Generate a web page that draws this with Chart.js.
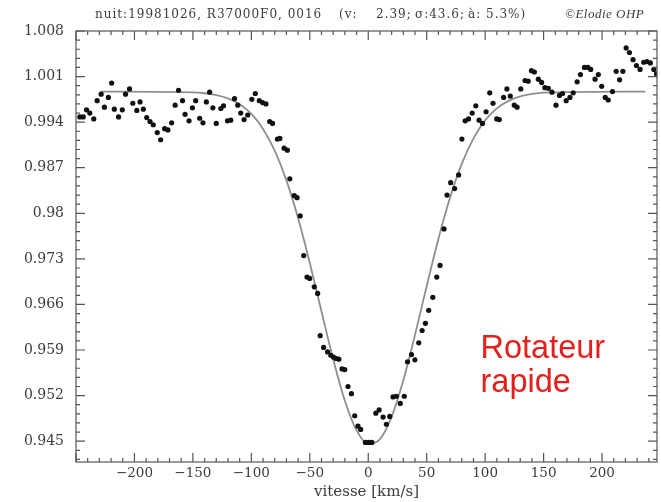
<!DOCTYPE html>
<html>
<head>
<meta charset="utf-8">
<script src="https://cdn.jsdelivr.net/npm/chart.js@4.4.1/dist/chart.umd.min.js"></script>
<style>
html, body { margin: 0; padding: 0; background: #fff; overflow: hidden; }
#wrap { position: relative; width: 661px; height: 502px; }
</style>
</head>
<body>
<div id="wrap"><canvas id="profil"></canvas></div>
<script>
// Profil de raie observé (vitesse en km/s, flux normalisé)
const vitesses = [
  -246.7, -243.8, -241.0, -238.2, -234.8, -231.9, -228.5, -225.7, -222.3, -219.5,
  -217.2, -213.6, -210.4, -207.6, -204.2, -201.4, -198.0, -195.2, -192.4, -189.5,
  -186.7, -183.9, -180.5, -177.6, -174.2, -171.4, -168.2, -165.2, -162.3, -158.9,
  -156.7, -153.3, -150.4, -147.6, -144.2, -141.4, -138.5, -135.7, -132.9, -130.0,
  -126.1, -123.8, -120.4, -117.6, -114.4, -111.6, -109.1, -106.2, -103.1, -99.6,
  -96.6, -93.2, -90.4, -87.5, -84.3, -81.9, -77.7, -75.6, -72.0, -69.2,
  -67.1, -63.3, -60.9, -58.2, -55.2, -52.4, -50.1, -46.2, -43.3, -41.1,
  -38.2, -34.8, -32.0, -29.7, -27.5, -25.2, -22.4, -20.1, -17.3, -14.4,
  -11.6, -8.8, -6.5, -2.5, 0.3, 3.1, 6.5, 9.3, 12.7, 15.5,
  18.4, 21.2, 24.0, 27.4, 30.8, 33.6, 37.0, 39.9, 43.2, 46.1,
  48.9, 51.7, 55.2, 58.6, 61.4, 64.8, 67.4, 70.5, 73.9, 77.3,
  80.1, 82.9, 85.8, 88.9, 92.0, 94.8, 97.7, 100.8, 103.9, 106.7,
  109.9, 112.1, 115.8, 118.6, 121.5, 124.9, 127.3, 130.5, 134.1, 136.8,
  139.6, 142.1, 145.5, 148.3, 151.1, 154.0, 157.2, 160.6, 163.6, 166.2,
  169.3, 172.5, 175.3, 178.7, 181.5, 184.9, 187.8, 190.3, 194.0, 196.8,
  199.7, 202.7, 205.3, 208.9, 212.1, 215.0, 217.8, 220.6, 223.4, 226.5,
  229.4, 232.5, 235.6, 238.4, 241.3, 244.3, 246.6
];
const flux = [
  0.9948, 0.9948, 0.9959, 0.9954, 0.9945, 0.9973, 0.9983, 0.9963, 0.9978, 1.0000,
  0.9960, 0.9948, 0.9959, 0.9983, 0.9991, 0.9969, 0.9958, 0.9971, 0.9960, 0.9947,
  0.9941, 0.9936, 0.9924, 0.9913, 0.9930, 0.9928, 0.9939, 0.9966, 0.9989, 0.9973,
  0.9952, 0.9942, 0.9962, 0.9973, 0.9946, 0.9939, 0.9971, 0.9986, 0.9962, 0.9938,
  0.9961, 0.9965, 0.9942, 0.9943, 0.9976, 0.9966, 0.9954, 0.9944, 0.9951, 0.9975,
  0.9984, 0.9973, 0.9970, 0.9968, 0.9941, 0.9938, 0.9914, 0.9915, 0.9900, 0.9897,
  0.9853, 0.9827, 0.9824, 0.9796, 0.9735, 0.9702, 0.9700, 0.9687, 0.9677, 0.9612,
  0.9594, 0.9587, 0.9582, 0.9579, 0.9577, 0.9576, 0.9561, 0.9560, 0.9534, 0.9523,
  0.9489, 0.9473, 0.9468, 0.9448, 0.9448, 0.9448, 0.9493, 0.9498, 0.9487, 0.9476,
  0.9488, 0.9518, 0.9519, 0.9508, 0.9519, 0.9572, 0.9583, 0.9575, 0.9601, 0.9620,
  0.9631, 0.9651, 0.9671, 0.9702, 0.9720, 0.9776, 0.9828, 0.9847, 0.9838, 0.9859,
  0.9914, 0.9942, 0.9945, 0.9954, 0.9965, 0.9943, 0.9938, 0.9956, 0.9985, 0.9969,
  0.9945, 0.9944, 0.9978, 0.9991, 0.9980, 0.9966, 0.9963, 0.9991, 1.0004, 1.0003,
  1.0019, 1.0017, 1.0006, 1.0001, 0.9993, 0.9992, 0.9986, 0.9966, 0.9981, 0.9984,
  0.9973, 0.9978, 0.9985, 1.0002, 1.0013, 1.0024, 1.0024, 1.0021, 1.0006, 1.0013,
  0.9995, 0.9978, 0.9974, 0.9987, 1.0018, 1.0005, 1.0018, 1.0054, 1.0047, 1.0036,
  1.0027, 1.0021, 1.0032, 1.0033, 1.0031, 1.0021, 1.0014
];

// Ajustement (courbe grise)
const ajustV = [
  -229, -150, -140, -130, -120, -110, -100, -90, -80, -70, -60, -50, -40, -30, -20, -10,
  0, 10, 20, 30, 40, 50, 60, 70, 80, 90, 100, 110, 120, 130, 140, 150, 237
];
const ajustFlux = [
  0.9987, 0.99858, 0.99844, 0.99816, 0.99765, 0.99675, 0.99526, 0.99296, 0.98961, 0.98505,
  0.97924, 0.97238, 0.96492, 0.95758, 0.95120, 0.94665, 0.94458, 0.94532, 0.94874, 0.95434,
  0.96133, 0.96883, 0.97605, 0.98241, 0.98758, 0.99150, 0.99428, 0.99612, 0.99727, 0.99795,
  0.99833, 0.99852, 0.9987
];

// Graduations
const xTicks = [-200, -150, -100, -50, 0, 50, 100, 150, 200];
const yTickLabels = ['1.008', '1.001', '0.994', '0.987', '0.98', '0.973', '0.966', '0.959', '0.952', '0.945'];

const entete = ['nuit:19981026, R37000F0, 0016', '(v:', '2.39;', '\u03c3:43.6;', '\u00e0: 5.3%)'];
const signature = '\u00a9Elodie OHP';
const annotation = ['Rotateur', 'rapide'];

const serif = "'DejaVu Serif', 'Liberation Serif', serif";

// Cadre avec graduations internes sur les quatre côtés
const cadre = {
  id: 'cadre',
  afterDatasetsDraw(chart) {
    const { ctx, chartArea: a, scales: { x, y } } = chart;
    ctx.save();
    ctx.strokeStyle = '#555';
    ctx.lineWidth = 1.2;
    ctx.strokeRect(a.left, a.top, a.right - a.left, a.bottom - a.top);
    ctx.beginPath();
    for (let v = -250; v <= 250; v += 10) {
      const px = x.getPixelForValue(v);
      if (px < a.left - 0.5 || px > a.right + 0.5) continue;
      const len = v % 50 === 0 ? 9 : 4;
      ctx.moveTo(px, a.bottom); ctx.lineTo(px, a.bottom - len);
      ctx.moveTo(px, a.top); ctx.lineTo(px, a.top + len);
    }
    for (let k = 0; k < 60; k++) {
      const val = 1.008 - k * 0.0014;
      if (val < y.min) break;
      const py = y.getPixelForValue(val);
      const len = k % 5 === 0 ? 9 : 4;
      ctx.moveTo(a.left, py); ctx.lineTo(a.left + len, py);
      ctx.moveTo(a.right, py); ctx.lineTo(a.right - len, py);
    }
    ctx.stroke();
    ctx.restore();
  },
  afterDraw(chart) {
    const { ctx, scales: { x, y } } = chart;
    ctx.save();
    ctx.fillStyle = '#3c3c3c';
    ctx.textBaseline = 'alphabetic';
    ctx.font = '12px ' + serif;
    ctx.letterSpacing = '1px';
    ctx.fillText(entete[0], 95, 18);
    ctx.fillText(entete[1], 339, 18);
    ctx.fillText(entete[2], 376, 18);
    ctx.fillText(entete[3], 415, 18);
    ctx.fillText(entete[4], 468, 18);
    ctx.letterSpacing = '0.5px';
    ctx.font = "italic 13px 'Liberation Serif', serif";
    ctx.fillText(signature, 565, 18);
    ctx.letterSpacing = '0px';

    // texte rouge
    ctx.fillStyle = '#e3201b';
    ctx.font = "32.5px 'Liberation Sans', Arial, sans-serif";
    ctx.fillText(annotation[0], x.getPixelForValue(96), y.getPixelForValue(0.9577));
    ctx.fillText(annotation[1], x.getPixelForValue(96), y.getPixelForValue(0.9526));
    ctx.restore();
  }
};

const ctx = document.getElementById('profil').getContext('2d');

new Chart(ctx, {
  data: {
    datasets: [
      {
        type: 'scatter',
        data: vitesses.map((v, i) => ({ x: v, y: flux[i] })),
        backgroundColor: '#111',
        borderColor: '#111',
        pointRadius: 2.6,
        pointBorderWidth: 0,
        order: 0
      },
      {
        type: 'line',
        data: ajustV.map((v, i) => ({ x: v, y: ajustFlux[i] })),
        borderColor: '#8f8f8f',
        borderWidth: 1.8,
        pointRadius: 0,
        fill: false,
        cubicInterpolationMode: 'monotone',
        order: 1
      }
    ]
  },
  options: {
    responsive: true,
    maintainAspectRatio: false,
    animation: false,
    layout: { padding: { top: 31, right: 1, left: 0, bottom: 0 } },
    plugins: {
      legend: { display: false },
      tooltip: { enabled: false }
    },
    scales: {
      x: {
        type: 'linear',
        min: -250,
        max: 247,
        afterFit(scale) { scale.height = 40; },
        afterBuildTicks(scale) { scale.ticks = xTicks.map(v => ({ value: v })); },
        grid: { display: false, drawTicks: false },
        border: { display: false },
        ticks: {
          padding: 3,
          color: '#3c3c3c',
          font: { family: serif, size: 13.5 },
          maxRotation: 0,
          callback: v => String(v).replace('-', '\u2212')
        },
        title: {
          display: true,
          text: 'vitesse [km/s]',
          color: '#3c3c3c',
          font: { family: serif, size: 15 },
          padding: { top: 0, bottom: 1 }
        }
      },
      y: {
        type: 'linear',
        min: 0.9418,
        max: 1.008,
        afterFit(scale) { scale.width = 76; },
        afterBuildTicks(scale) { scale.ticks = yTickLabels.map(s => ({ value: Number(s) })); },
        grid: { display: false, drawTicks: false },
        border: { display: false },
        ticks: {
          padding: 12,
          color: '#3c3c3c',
          font: { family: serif, size: 14 },
          callback: (v, i) => yTickLabels[i]
        }
      }
    }
  },
  plugins: [cadre]
});
</script>
</body>
</html>
